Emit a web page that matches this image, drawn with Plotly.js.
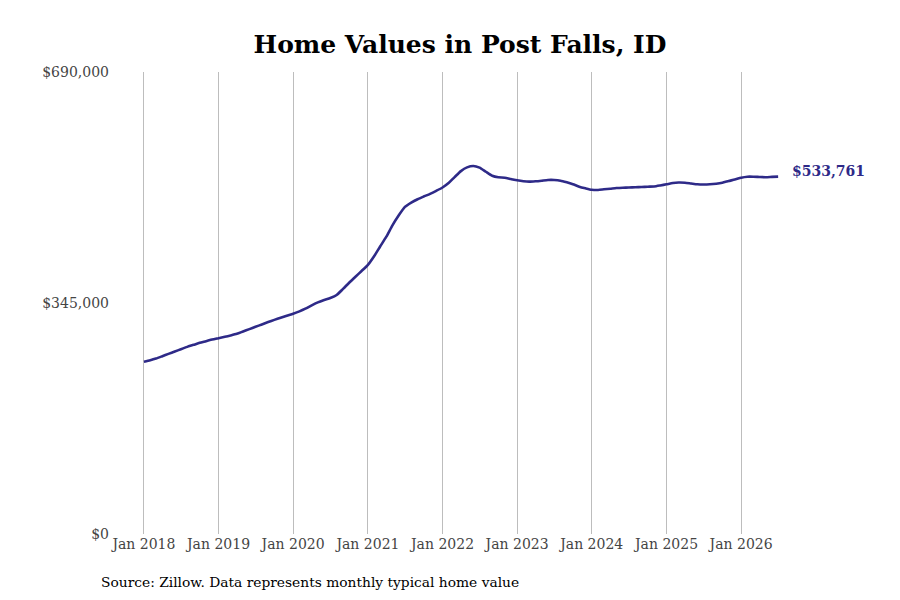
<!DOCTYPE html>
<html>
<head>
<meta charset="utf-8">
<script src="https://cdn.plot.ly/plotly-3.0.1.min.js"></script>
<style>
  html, body { margin: 0; padding: 0; background: #ffffff; }
  #chart { width: 900px; height: 600px; }
</style>
</head>
<body>
<div id="chart"></div>
<script>
// =====================
// DATA
// =====================
// monthly typical home value, Jan 2018 .. Jul 2026
const startYear = 2018;
const values = [
  // 2018
  257300, 259500, 262000, 265500, 269000, 272500, 276000, 279500, 282500, 285500, 288000, 290500,
  // 2019
  292500, 294500, 296500, 299000, 302500, 306000, 309500, 313000, 316500, 319800, 323000, 326000,
  // 2020
  329000, 332500, 336500, 341500, 346000, 349500, 352500, 357000, 366000, 375300, 384300, 392800,
  // 2021
  402000, 415200, 429100, 444000, 461000, 476000, 488500, 495000, 500000, 504000, 508000, 512500,
  // 2022
  517500, 524500, 533000, 542000, 547500, 549600, 547100, 541000, 535000, 532700, 532100, 530200,
  // 2023
  528200, 526800, 526200, 526800, 527700, 528700, 528700, 527700, 525200, 522300, 518700, 516300,
  // 2024
  514200, 513800, 514800, 515700, 516700, 517200, 517500, 517800, 518200, 518700, 519000, 520500,
  // 2025
  522300, 524200, 525000, 524700, 523500, 522300, 522000, 522300, 523200, 524700, 527200, 529400,
  // 2026
  532100, 533600, 533600, 533200, 532900, 533400, 533761
];

const tickYears = [2018, 2019, 2020, 2021, 2022, 2023, 2024, 2025, 2026];
const yTicks = [0, 345000, 690000];
const yTickLabels = ["$0", "$345,000", "$690,000"];

// month strings for each value
const dates = values.map((v, i) => {
  const y = startYear + Math.floor(i / 12);
  const m = (i % 12) + 1;
  return y + "-" + String(m).padStart(2, "0") + "-01";
});

const lineColor = "#2e2a88";
const serif = "DejaVu Serif, serif";

// =====================
// TRACE
// =====================
const trace = {
  type: "scatter",
  mode: "lines",
  x: dates,
  y: values,
  line: { color: lineColor, width: 2.6, shape: "spline", smoothing: 0.6 },
  hoverinfo: "x+y",
  showlegend: false
};

const lastDate = dates[dates.length - 1];
const lastValue = values[values.length - 1];

// =====================
// LAYOUT
// =====================
const layout = {
  width: 900,
  height: 600,
  margin: { l: 120, r: 100, t: 72, b: 66 },
  paper_bgcolor: "#ffffff",
  plot_bgcolor: "#ffffff",
  font: { family: serif, color: "#444444", size: 14 },

  title: {
    text: "<b>Home Values in Post Falls, ID</b>",
    font: { family: serif, size: 25, color: "#000000" },
    x: 0.5,
    xref: "paper",
    xanchor: "center",
    y: 1 - 44 / 600,
    yref: "container",
    yanchor: "middle"
  },

  xaxis: {
    type: "date",
    range: ["2017-09-06", "2026-10-16"],
    tickvals: tickYears.map(y => y + "-01-01"),
    ticktext: tickYears.map(y => "Jan " + y),
    showgrid: true,
    gridcolor: "#bdbdbd",
    gridwidth: 1,
    zeroline: false,
    showline: false,
    ticks: "",
    tickfont: { family: serif, size: 14, color: "#444444" }
  },
  yaxis: {
    range: [0, 690000],
    tickvals: yTicks,
    ticktext: yTickLabels,
    showgrid: false,
    zeroline: false,
    showline: false,
    ticks: "",
    ticklabelstandoff: 10,
    tickfont: { family: serif, size: 14, color: "#444444" }
  },

  annotations: [
    {
      text: "<b>$533,761</b>",
      x: lastDate,
      y: lastValue,
      xref: "x",
      yref: "y",
      xanchor: "left",
      yanchor: "middle",
      xshift: 12,
      yshift: 6,
      showarrow: false,
      font: { family: serif, size: 14, color: lineColor }
    },
    {
      text: "Source: Zillow. Data represents monthly typical home value",
      x: (99 - 120) / 680,
      y: (534 - 582) / 462,
      xref: "paper",
      yref: "paper",
      xanchor: "left",
      yanchor: "middle",
      showarrow: false,
      font: { family: serif, size: 13.8, color: "#000000" }
    }
  ]
};

Plotly.newPlot("chart", [trace], layout, { displayModeBar: false, staticPlot: true });
</script>
</body>
</html>
